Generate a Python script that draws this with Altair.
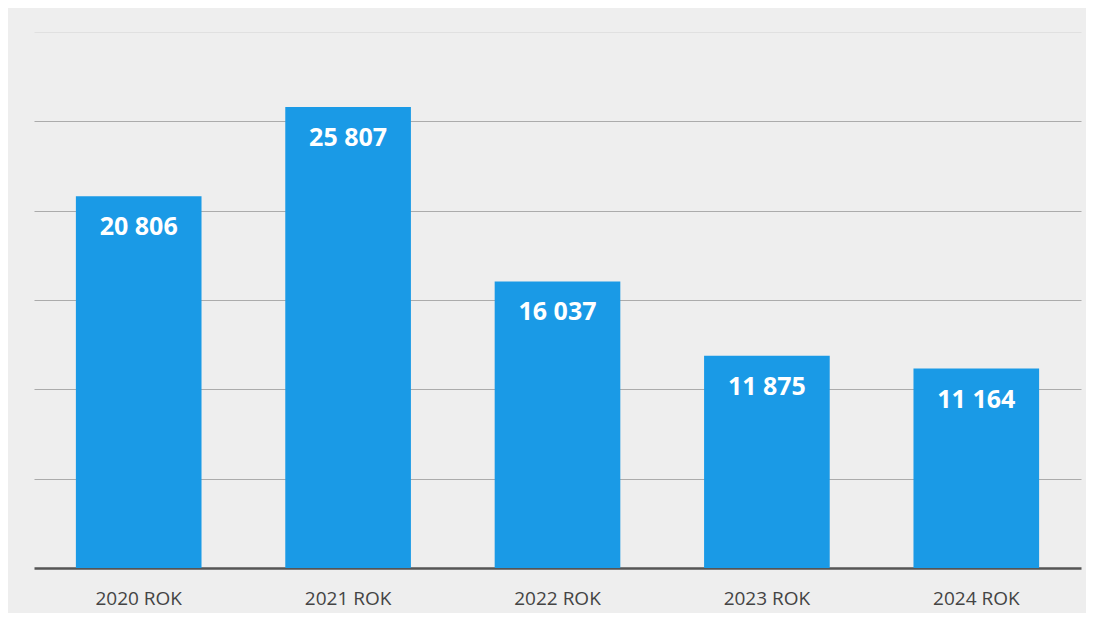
import altair as alt
import pandas as pd

years = ["2020 ROK", "2021 ROK", "2022 ROK", "2023 ROK", "2024 ROK"]
values = [20806, 25807, 16037, 11875, 11164]
labels = ["20 806", "25 807", "16 037", "11 875", "11 164"]

df = pd.DataFrame({"year": years, "value": values, "label": labels})

x = alt.X("year:N", sort=years, title=None,
          scale=alt.Scale(paddingInner=0.4, paddingOuter=0.2),
          axis=alt.Axis(labelAngle=0, labelFontSize=19, labelColor="#444444",
                        labelFont="Open Sans", tickSize=0, labelPadding=21,
                        domainColor="#555555", domainWidth=2.5))
y = alt.Y("value:Q", title=None,
          scale=alt.Scale(domain=[0, 30000], nice=False),
          axis=alt.Axis(values=[5000, 10000, 15000, 20000, 25000, 30000],
                        labels=False, ticks=False, domain=False,
                        gridColor=alt.ExprRef("datum.value >= 30000 ? '#dcdcdc' : '#9a9a9a'"),
                        gridWidth=1, gridOpacity=0.8))

bars = alt.Chart(df).mark_bar(color="#1a9ae6").encode(x=x, y=y)
text = alt.Chart(df).mark_text(color="white", fontWeight="bold", fontSize=25,
                               font="Open Sans", baseline="middle", dy=31).encode(
    x=alt.X("year:N", sort=years), y="value:Q", text="label:N")

chart = (bars + text).properties(
    width=1047, height=536,
    padding={"left": 26, "top": 24, "right": 5, "bottom": 5},
    background="#eeeeee",
).configure_view(stroke=None).configure_axisY(grid=True).configure_axisX(grid=False)

chart.save("out.html", embed_options={"renderer": "svg", "actions": False})
